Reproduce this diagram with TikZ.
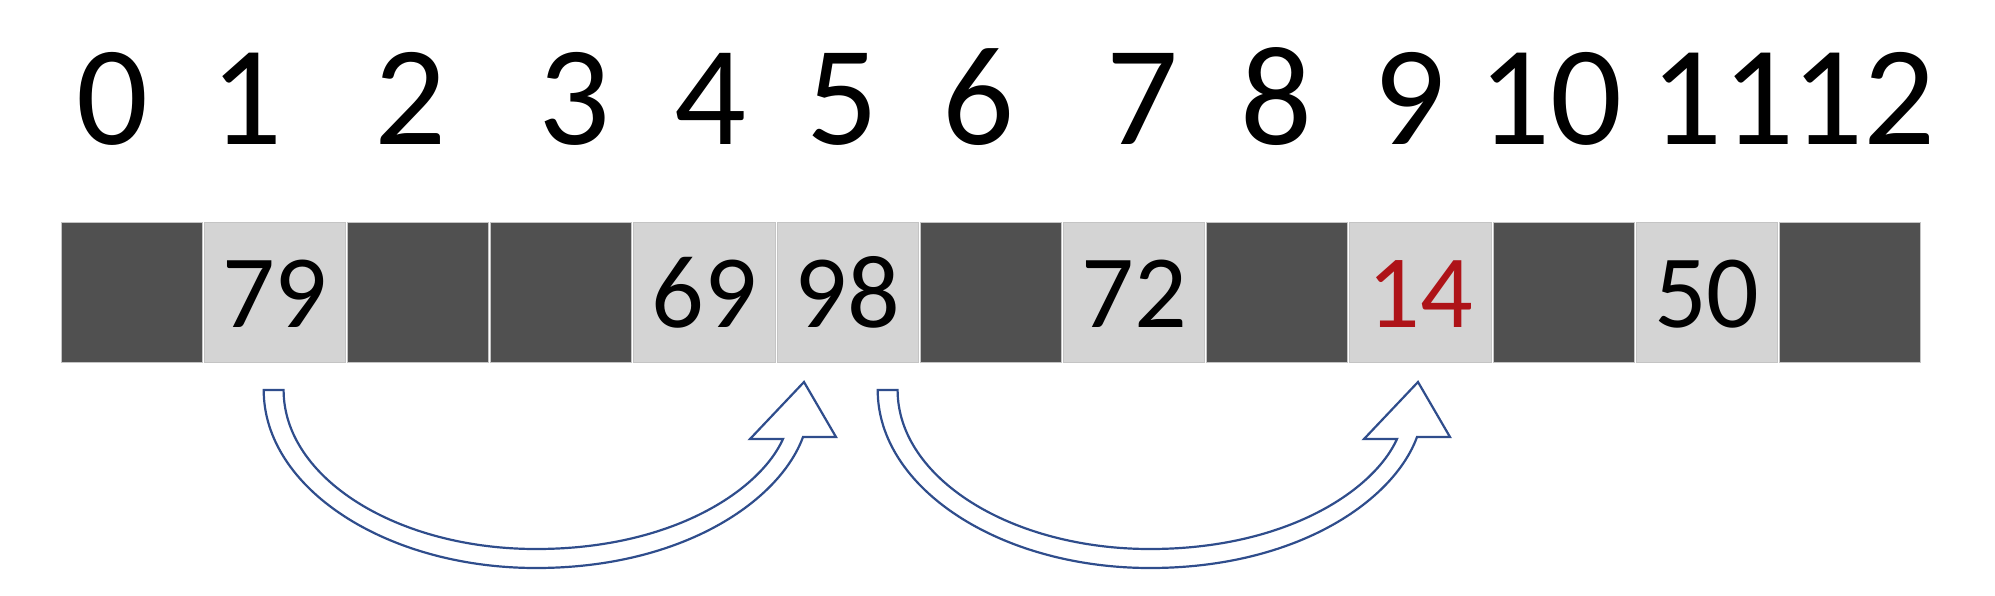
\documentclass[tikz,border=0pt]{standalone}
\usepackage{fontspec}
\setmainfont{Carlito}
\definecolor{darkcell}{HTML}{505050}
\definecolor{lightcell}{HTML}{D4D4D4}
\definecolor{cellline}{HTML}{C4C4C4}
\definecolor{redval}{HTML}{AE1318}
\definecolor{arrowblue}{HTML}{2F4D8C}
\begin{document}
\begin{tikzpicture}[x=1pt,y=-1pt,
  cellbase/.style={rectangle, minimum width=141.2pt, minimum height=140pt, inner sep=0pt, draw=cellline, line width=0.8pt},
  emptycell/.style={cellbase, fill=darkcell},
  fullcell/.style={cellbase, fill=lightcell},
  idxlabel/.style={anchor=base, inner sep=0pt, font=\fontsize{142}{150}\selectfont},
  vallabel/.style={anchor=base, inner sep=0pt, font=\fontsize{104}{110}\selectfont},
  blockarrow/.style={draw=arrowblue, line width=2.2pt, line join=miter, fill=white}
]
\useasboundingbox (0,0) rectangle (1995,595);
% index labels
\foreach \i/\x in {0/112,1/246,2/410,3/574,4/710,5/842,6/978,7/1142,8/1276,9/1409,10/1550,11/1722,12/1863}{
  \node[idxlabel] (l\i) at (\x,144) {\i};
}
% cells
\foreach \i/\kind in {0/emptycell,1/fullcell,2/emptycell,3/emptycell,4/fullcell,5/fullcell,6/emptycell,7/fullcell,8/emptycell,9/fullcell,10/emptycell,11/fullcell,12/emptycell}{
  \node[\kind] (c\i) at ({60+143.2*(\i+0.5)},292) {};
}
% values
\path (c1.center) ++(0,35) node[vallabel] (v1) {79};
\path (c4.center) ++(0,35) node[vallabel] (v4) {69};
\path (c5.center) ++(0,35) node[vallabel] (v5) {98};
\path (c7.center) ++(0,35) node[vallabel] (v7) {72};
\path (c9.center) ++(0,35) node[vallabel, text=redval] (v9) {14};
\path (c11.center) ++(0,35) node[vallabel] (v11) {50};
% block arrows
\foreach \s in {0,614}{
\begin{scope}[xshift=\s pt]
\draw[blockarrow] (263.7,390) -- (283.6,390)
  .. controls (283.6,478) and (396.8,549) .. (536,549)
  .. controls (673,549) and (760,490) .. (783,439)
  -- (750,439) -- (804,382) -- (836,437) -- (803,437)
  .. controls (780,500) and (684,568) .. (536,568)
  .. controls (385.8,568) and (263.7,488) .. (263.7,390) -- cycle;
\end{scope}
}
\end{tikzpicture}
\end{document}
